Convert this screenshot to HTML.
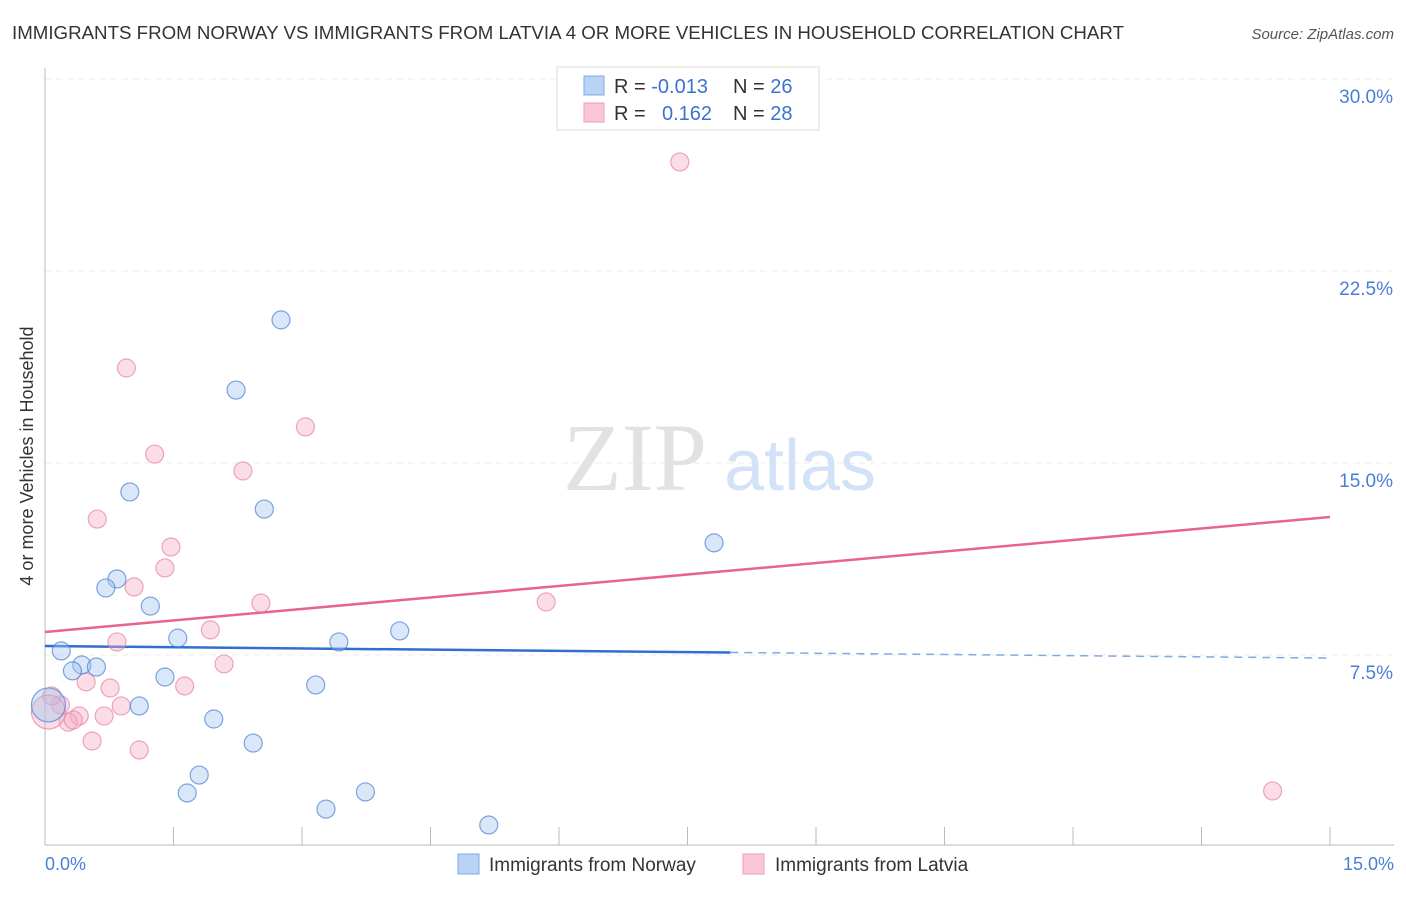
<!DOCTYPE html>
<html><head><meta charset="utf-8"><style>
body{margin:0;background:#fff;font-family:"Liberation Sans",sans-serif;}
</style></head><body>
<svg width="1406" height="892" xmlns="http://www.w3.org/2000/svg" font-family="Liberation Sans, sans-serif">
<text x="12" y="39" font-size="18" fill="#333" textLength="1112" lengthAdjust="spacingAndGlyphs">IMMIGRANTS FROM NORWAY VS IMMIGRANTS FROM LATVIA 4 OR MORE VEHICLES IN HOUSEHOLD CORRELATION CHART</text>
<text x="1394" y="39" font-size="15" fill="#555" font-style="italic" text-anchor="end">Source: ZipAtlas.com</text>
<g id="grid"></g>
<g>
<text x="635" y="490" font-size="96" fill="#e2e2e2" font-family="Liberation Serif, serif" text-anchor="middle">ZIP</text>
<text x="800" y="490" font-size="72" fill="#d3e2f6" text-anchor="middle">atlas</text>
</g>
<line x1="45" y1="68" x2="45" y2="845" stroke="#bbb"/>
<line x1="45" y1="845" x2="1394" y2="845" stroke="#bbb"/>
<g id="ticks"></g>
<text x="33" y="456" font-size="18" fill="#333" text-anchor="middle" transform="rotate(-90 33 456)">4 or more Vehicles in Household</text>
<text x="45" y="870" font-size="18" fill="#4a7fd4">0.0%</text>
<text x="1394" y="870" font-size="18" fill="#4a7fd4" text-anchor="end">15.0%</text>
<g id="lines"></g>
<g id="points"></g>
<g>
<rect x="557" y="67" width="262" height="63" fill="#fff" stroke="#ddd"/>
<rect x="584" y="76" width="20" height="19" fill="#b9d3f5" stroke="#7faae6"/>
<rect x="584" y="103" width="20" height="19" fill="#f9c6d5" stroke="#ee9db7"/>
<text x="614" y="93" font-size="20" fill="#333">R = <tspan fill="#3a73d0">-0.013</tspan></text>
<text x="733" y="93" font-size="20" fill="#333">N = <tspan fill="#3a73d0">26</tspan></text>
<text x="614" y="120" font-size="20" fill="#333">R = <tspan x="662" fill="#3a73d0">0.162</tspan></text>
<text x="733" y="120" font-size="20" fill="#333">N = <tspan fill="#3a73d0">28</tspan></text>
</g>
<g>
<rect x="458" y="854" width="21" height="20" fill="#b9d3f5" stroke="#7faae6"/>
<text x="489" y="871" font-size="19" fill="#333">Immigrants from Norway</text>
<rect x="743" y="854" width="21" height="20" fill="#f9c6d5" stroke="#ee9db7"/>
<text x="775" y="871" font-size="19" fill="#333">Immigrants from Latvia</text>
</g>
</svg>
<script>
const yTicks=[7.5,15,22.5,30];
const yTickLabels=["7.5%","15.0%","22.5%","30.0%"];
const xTicks=[0,1.5,3,4.5,6,7.5,9,10.5,12,13.5,15];
const norwayX=[2.755,2.23,0.99,2.56,7.81,0.84,0.71,1.23,1.55,3.43,4.14,0.19,0.43,0.60,0.32,1.40,3.16,1.10,1.97,0.04,2.43,1.80,1.66,3.74,3.28,5.18];
const norwayY=[20.59,17.85,13.87,13.20,11.88,10.47,10.12,9.41,8.16,8.01,8.44,7.66,7.11,7.03,6.88,6.64,6.33,5.51,5.0,5.55,4.06,2.81,2.11,2.15,1.48,0.86];
const norwayR=[9,9,9,9,9,9,9,9,9,9,9,9,9,9,9,9,9,9,9,17,9,9,9,9,9,9];
const latviaX=[7.41,0.95,3.04,1.28,2.31,0.61,1.47,1.40,1.04,2.52,5.85,1.93,0.84,2.09,0.48,1.63,0.76,0.89,0.18,0.08,0.40,0.69,0.27,0.33,0.55,1.10,14.33,0.04];
const latviaY=[26.76,18.71,16.41,15.35,14.69,12.81,11.72,10.90,10.16,9.53,9.57,8.48,8.01,7.15,6.45,6.29,6.21,5.51,5.55,5.90,5.12,5.12,4.88,4.96,4.14,3.79,2.19,5.27];
const latviaR=[9,9,9,9,9,9,9,9,9,9,9,9,9,9,9,9,9,9,9,9,9,9,9,9,9,9,9,17];
const norwayTrend=[7.85,7.38];
const latviaTrend=[8.40,12.89];
const NS="http://www.w3.org/2000/svg";
const sx=v=>45+v/15*1285;
const sy=v=>847-v/7.5*192;
function mk(t,a,p){const e=document.createElementNS(NS,t);for(const k in a)e.setAttribute(k,a[k]);document.getElementById(p).appendChild(e);return e;}
yTicks.forEach((v,i)=>{
 const l=mk('line',{x1:45,x2:1394,y1:sy(v),y2:sy(v),stroke:'#ececec','stroke-dasharray':'6,5'},'grid');
 
 
 const t=mk('text',{x:1393,y:sy(v)+24,'font-size':19,fill:'#4a7fd4','text-anchor':'end'},'grid');
 t.textContent=yTickLabels[i];
 
 
});
xTicks.forEach(v=>{
 const l=mk('line',{x1:sx(v),x2:sx(v),y1:827,y2:845,stroke:'#bbb'},'ticks');
 
 
});
function pts(X,Y,R,fill,stroke,name){X.forEach((x,i)=>{
 const c=mk('circle',{cx:sx(x),cy:sy(Y[i]),r:R[i],fill:fill,stroke:stroke,'stroke-width':1.2},'points');
 
 
});}
pts(latviaX,latviaY,latviaR,'rgba(246,170,194,0.4)','rgba(232,130,160,0.7)','latvia-point');
pts(norwayX,norwayY,norwayR,'rgba(160,196,240,0.4)','rgba(74,127,212,0.7)','norway-point');
const yb=x=>norwayTrend[0]+(norwayTrend[1]-norwayTrend[0])*x/15;
let l1=mk('line',{x1:sx(0),y1:sy(yb(0)),x2:sx(8),y2:sy(yb(8)),stroke:'#2f6fd0','stroke-width':2.5},'lines');


let l2=mk('line',{x1:sx(8),y1:sy(yb(8)),x2:sx(15),y2:sy(yb(15)),stroke:'#7faae6','stroke-width':1.5,'stroke-dasharray':'8,6'},'lines');


let l3=mk('line',{x1:sx(0),y1:sy(latviaTrend[0]),x2:sx(15),y2:sy(latviaTrend[1]),stroke:'#e8648e','stroke-width':2.5},'lines');


</script>
</body></html>
